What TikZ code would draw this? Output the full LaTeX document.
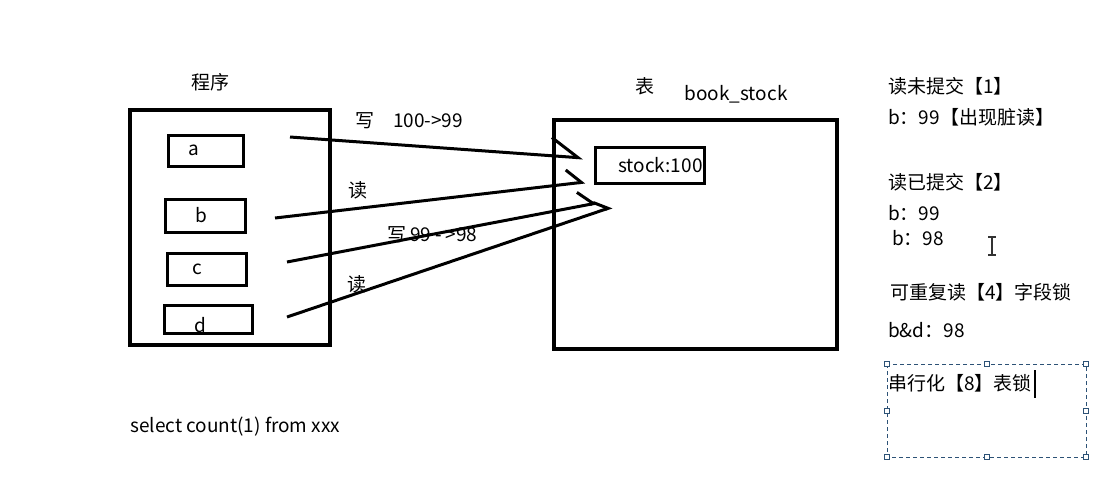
\documentclass[tikz,border=0pt]{standalone}
\usepackage{fontspec}
\setmainfont{Noto Sans CJK SC}
\usetikzlibrary{arrows.meta}
\definecolor{selblue}{RGB}{45,82,118}

\begin{document}
\begin{tikzpicture}[x=1pt, y=-1pt, font=\fontsize{19}{22}\selectfont]
	%define styles
	\tikzset{
		outer/.style={rectangle, draw=black, line width=4pt, inner sep=0pt},
		field/.style={rectangle, draw=black, line width=3pt, inner sep=0pt},
		txt/.style={anchor=west, inner sep=0pt},
		access/.style={line width=3pt, -{Straight Barb[harpoon, angle=90:20pt]}},
		handle/.style={rectangle, draw=selblue, fill=white, line width=0.8pt, minimum size=5pt, inner sep=0pt},
	}
	\useasboundingbox (0,0) rectangle (1110,493);
	%program side
	\node at (210,82) (progtitle) {程序};
	\node[outer, minimum width=200pt, minimum height=235pt] at (230,227.5) (prog) {};
	\node[field, minimum width=75pt, minimum height=31pt, label={[xshift=-12pt]center:a}] at (205.5,150.5) (a) {};
	\node[field, minimum width=80pt, minimum height=33pt, label={[xshift=-4pt]center:b}] at (205,215.5) (b) {};
	\node[field, minimum width=79pt, minimum height=32pt, label={[xshift=-9pt]center:c}] at (206.5,269) (c) {};
	\node[field, minimum width=88pt, minimum height=28pt, label={[xshift=-8pt, yshift=-6pt]center:d}] at (208,319) (d) {};
	%table side
	\node at (645,86) (tabtitle) {表};
	\node at (736,94) (tabname) {book\_stock};
	\node[outer, minimum width=283pt, minimum height=229pt] at (695.5,234.5) (table) {};
	\node[field, minimum width=109pt, minimum height=36pt, label={[xshift=11pt]center:stock:100}] at (649.5,165) (stock) {};
	%define arrows
	\coordinate (a out) at (290,137);
	\coordinate (a in) at (583,158);
	\coordinate (b out) at (275,218);
	\coordinate (b in) at (585,182);
	\coordinate (c out) at (287,262);
	\coordinate (c in) at (597,203);
	\coordinate (d out) at (287,317);
	\coordinate (d in) at (612,207);
	\draw[access, -{Straight Barb[harpoon, angle=67:33pt]}] (a out) -- (a in);
	\draw[access] (b out) -- (b in);
	\draw[access] (c out) -- (c in);
	\draw[access, -{Straight Barb[harpoon, angle=80:16pt]}] (d out) -- (d in);
	\node[txt] at (355,121) (w1) {写\quad 100->99};
	\node[txt] at (348,190) (r1) {读};
	\node[txt] at (387,235) (w2) {写 99 -\,>98};
	\node[txt] at (347,284) (r2) {读};
	\node[txt] at (130,427) (query) {select count(1) from xxx};
	%isolation levels
	\node[txt] at (888,86) (lv1) {读未提交【1】};
	\node[txt] at (888,117) (lv1a) {b：99【出现脏读】};
	\node[txt] at (888,182) (lv2) {读已提交【2】};
	\node[txt] at (888,213) (lv2a) {b：99};
	\node[txt] at (892,238) (lv2b) {b：98};
	\node[txt] at (890,292) (lv4) {可重复读【4】字段锁};
	\node[txt] at (888,330) (lv4a) {b\&d：98};
	\node[txt] at (888,383) (lv8) {串行化【8】表锁};
	%mouse cursor
	\draw[line width=1.5pt, gray!40!black] (992,237) -- (992,255) (988,237) -- (996,237) (988,255) -- (996,255);
	%selection frame
	\draw[selblue, line width=1pt, dash pattern=on 4pt off 3pt] (887,364) rectangle (1086,457);
	\draw[line width=1.2pt] (1035,370) -- (1035,398);
	\foreach \hx in {887,986.5,1086}
		\foreach \hy in {364,457}
			\node[handle] at (\hx,\hy) {};
	\node[handle] at (887,410.5) {};
	\node[handle] at (1086,410.5) {};
\end{tikzpicture}
\end{document}
